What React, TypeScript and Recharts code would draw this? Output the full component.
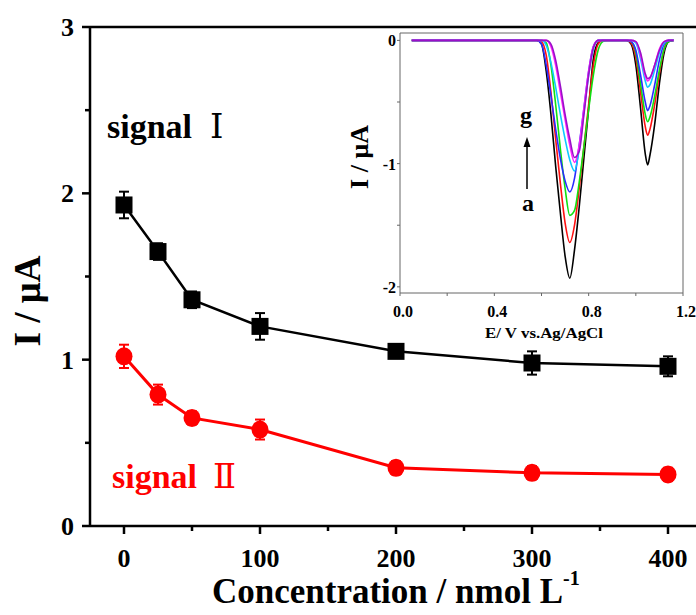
import React from 'react';
import {
  LineChart,
  Line,
  XAxis,
  YAxis,
  ErrorBar,
  ReferenceLine,
  Customized,
} from 'recharts';

// ---------- main chart data ----------
const concentration = [0, 25, 50, 100, 200, 300, 400];
const signalI = [1.93, 1.65, 1.36, 1.2, 1.05, 0.98, 0.96];
const signalIErr = [0.08, 0.05, 0.05, 0.08, 0.03, 0.07, 0.06];
const signalII = [1.02, 0.79, 0.65, 0.58, 0.35, 0.32, 0.31];
const signalIIErr = [0.07, 0.06, 0.04, 0.06, 0.04, 0.04, 0.04];
const mainXTicks = [0, 50, 100, 150, 200, 250, 300, 350, 400];
const mainXLabels = [0, 100, 200, 300, 400];
const mainYTicks = [0, 0.5, 1, 1.5, 2, 2.5, 3];
const mainYLabels = [0, 1, 2, 3];

// ---------- inset (DPV curves a-g) ----------
const potential = [
  0.05, 0.3, 0.5, 0.56, 0.58, 0.6, 0.62, 0.64, 0.66, 0.68, 0.7, 0.72, 0.74, 0.76, 0.78, 0.8, 0.82,
  0.84, 0.86, 0.88, 0.94, 0.96, 0.98, 1.0, 1.02, 1.04, 1.05, 1.06, 1.08, 1.1, 1.12, 1.14, 1.16,
];
const curveA = [
  0, 0, 0, 0, 0, -0.03, -0.25, -0.6, -1.02, -1.4, -1.75, -1.93, -1.7, -1.35, -0.95, -0.55, -0.15,
  -0.02, 0, 0, 0, 0, -0.03, -0.2, -0.55, -0.92, -1.01, -0.93, -0.68, -0.35, -0.1, -0.01, 0,
];
const curveB = [
  0, 0, 0, 0, 0, -0.01, -0.12, -0.42, -0.8, -1.16, -1.48, -1.64, -1.5, -1.2, -0.86, -0.52, -0.2,
  -0.03, 0, 0, 0, 0, -0.02, -0.14, -0.42, -0.7, -0.77, -0.72, -0.52, -0.27, -0.07, 0, 0,
];
const curveC = [
  0, 0, 0, 0, 0, 0, -0.02, -0.2, -0.52, -0.88, -1.2, -1.42, -1.38, -1.15, -0.86, -0.56, -0.28,
  -0.08, -0.01, 0, 0, 0, -0.01, -0.1, -0.35, -0.6, -0.66, -0.62, -0.45, -0.24, -0.07, -0.01, 0,
];
const curveD = [
  0, 0, 0, 0, 0, -0.03, -0.2, -0.45, -0.72, -0.96, -1.14, -1.23, -1.12, -0.85, -0.55, -0.25, -0.05,
  0, 0, 0, 0, 0, -0.01, -0.08, -0.28, -0.5, -0.57, -0.53, -0.36, -0.16, -0.03, 0, 0,
];
const curveE = [
  0, 0, 0, 0, 0, 0, -0.04, -0.18, -0.38, -0.6, -0.8, -0.97, -1.06, -0.88, -0.58, -0.28, -0.07,
  0, 0, 0, 0, 0, 0, -0.02, -0.15, -0.33, -0.38, -0.36, -0.24, -0.1, -0.02, 0, 0,
];
const curveF = [
  0, 0, 0, 0, 0, 0, 0, -0.05, -0.2, -0.42, -0.64, -0.85, -0.99, -0.85, -0.55, -0.25, -0.05,
  0, 0, 0, 0, 0, 0, -0.01, -0.12, -0.29, -0.33, -0.31, -0.2, -0.07, -0.01, 0, 0,
];
const curveG = [
  0, 0, 0, 0, 0, 0, 0, -0.03, -0.16, -0.37, -0.6, -0.8, -0.95, -0.9, -0.6, -0.28, -0.06,
  0, 0, 0, 0, 0, 0, -0.01, -0.1, -0.27, -0.31, -0.3, -0.2, -0.08, -0.01, 0, 0,
];
const curveColors = ['#000000', '#ff1010', '#10e010', '#2a2aff', '#10c8ff', '#ff20ff', '#9a10c8'];
const insetXTicks = [0, 0.2, 0.4, 0.6, 0.8, 1.0, 1.2];
const insetXLabels = [0, 0.4, 0.8, 1.2];
const insetYTicks = [-2, -1.5, -1, -0.5, 0];
const insetYLabels = [-2, -1, 0];

const mainData = concentration.map((c, i) => ({
  c,
  s1: signalI[i],
  e1: signalIErr[i],
  s2: signalII[i],
  e2: signalIIErr[i],
}));

const insetData = potential.map((pot, i) => ({
  pot,
  ca: curveA[i],
  cb: curveB[i],
  cc: curveC[i],
  cd: curveD[i],
  ce: curveE[i],
  cf: curveF[i],
  cg: curveG[i],
}));

const SERIF = "'Liberation Serif', 'Times New Roman', 'DejaVu Serif', serif";

const MainXTick = (props: any) => {
  const { x, y, payload } = props;
  const major = mainXLabels.includes(payload.value);
  return (
    <g>
      <line x1={x} x2={x} y1={y} y2={y + (major ? 8 : 5)} stroke="#000" strokeWidth={2.5} />
      {major && (
        <text x={x} y={y + 41} textAnchor="middle" fontSize={26} fontWeight="bold" fontFamily={SERIF} fill="#000">
          {payload.value}
        </text>
      )}
    </g>
  );
};

const MainYTick = (props: any) => {
  const { x, y, payload } = props;
  const major = mainYLabels.includes(payload.value);
  return (
    <g>
      <line x1={x - (major ? 8 : 5)} x2={x} y1={y} y2={y} stroke="#000" strokeWidth={2.5} />
      {major && (
        <text x={x - 16} y={y + 9} textAnchor="end" fontSize={26} fontWeight="bold" fontFamily={SERIF} fill="#000">
          {payload.value}
        </text>
      )}
    </g>
  );
};

const InsetXTick = (props: any) => {
  const { x, y, payload } = props;
  const major = insetXLabels.some((v) => Math.abs(v - payload.value) < 1e-6);
  return (
    <g>
      <line x1={x} x2={x} y1={y} y2={y + 3} stroke="#666" strokeWidth={1} />
      {major && (
        <text x={x + 3} y={y + 24} textAnchor="middle" fontSize={16} fontWeight="bold" fontFamily={SERIF} fill="#000">
          {payload.value.toFixed(1)}
        </text>
      )}
    </g>
  );
};

const InsetYTick = (props: any) => {
  const { x, y, payload } = props;
  const major = insetYLabels.includes(payload.value);
  return (
    <g>
      <line x1={x - 3} x2={x} y1={y} y2={y} stroke="#666" strokeWidth={1} />
      {major && (
        <text x={x - 4} y={y + 6} textAnchor="end" fontSize={16} fontWeight="bold" fontFamily={SERIF} fill="#000">
          {payload.value}
        </text>
      )}
    </g>
  );
};

const SquareDot = (props: any) => {
  const { cx, cy } = props;
  if (cx == null || cy == null) return <g />;
  return <rect x={cx - 8.5} y={cy - 8.5} width={17} height={17} fill="#000" />;
};

const CircleDot = (props: any) => {
  const { cx, cy } = props;
  if (cx == null || cy == null) return <g />;
  return <ellipse cx={cx} cy={cy} rx={8.5} ry={9} fill="#ff0000" />;
};

const MainTexts = () => (
  <g fontFamily={SERIF} fontWeight="bold">
    <text x={107} y={138} fontSize={34} fill="#000">
      signal
      <tspan dx={18} fontWeight="normal">Ⅰ</tspan>
    </text>
    <text x={112} y={488} fontSize={34} fill="#ff0000">
      signal
      <tspan dx={16} fontWeight="normal">Ⅱ</tspan>
    </text>
    <text
      x={40}
      y={301}
      fontSize={37}
      fill="#000"
      textAnchor="middle"
      transform="rotate(-90, 40, 301)"
    >
      I / μA
    </text>
    <text x={212} y={603} fontSize={35} fill="#000">
      Concentration / nmol L
      <tspan dy={-18} fontSize={20}>
        -1
      </tspan>
    </text>
  </g>
);

const InsetTexts = () => (
  <g fontFamily={SERIF} fontWeight="bold" fill="#000">
    <text x={28} y={157} fontSize={26} textAnchor="middle" transform="rotate(-90, 28, 157)">
      I / μA
    </text>
    <text x={204} y={338} fontSize={15} textAnchor="middle" textLength={118} lengthAdjust="spacingAndGlyphs">
      E/ V vs.Ag/AgCl
    </text>
    <text x={186} y={123} fontSize={24} textAnchor="middle">
      g
    </text>
    <text x={188} y={211} fontSize={24} textAnchor="middle">
      a
    </text>
    <line x1={187} x2={187} y1={189} y2={146} stroke="#000" strokeWidth={1.5} />
    <path d="M183.5,147 L187,137 L190.5,147 Z" fill="#000" />
  </g>
);

export default function App() {
  return (
    <div
      style={{
        position: 'absolute',
        left: 0,
        top: 0,
        width: 696,
        height: 615,
        overflow: 'hidden',
        background: '#fff',
      }}
    >
      <div style={{ position: 'absolute', left: 0, top: 0 }}>
        <LineChart width={710} height={615} data={mainData} margin={{ top: 27, right: 8, bottom: 0, left: 0 }}>
          <XAxis
            dataKey="c"
            type="number"
            domain={[-25, 425]}
            ticks={mainXTicks}
            allowDataOverflow
            height={89}
            tickSize={0}
            tickMargin={0}
            tickLine={false}
            axisLine={{ stroke: '#000', strokeWidth: 2.5 }}
            tick={<MainXTick />}
            interval={0}
          />
          <YAxis
            type="number"
            domain={[0, 3]}
            ticks={mainYTicks}
            allowDataOverflow
            width={90}
            tickSize={0}
            tickMargin={0}
            tickLine={false}
            axisLine={{ stroke: '#000', strokeWidth: 2.5 }}
            tick={<MainYTick />}
            interval={0}
          />
          <ReferenceLine y={3} stroke="#000" strokeWidth={2.5} />
          <Line
            dataKey="s1"
            stroke="#000"
            strokeWidth={2.5}
            isAnimationActive={false}
            dot={<SquareDot />}
            activeDot={false}
          >
            <ErrorBar dataKey="e1" direction="y" width={5} stroke="#000" strokeWidth={2} isAnimationActive={false} />
          </Line>
          <Line
            dataKey="s2"
            stroke="#ff0000"
            strokeWidth={3}
            isAnimationActive={false}
            dot={<CircleDot />}
            activeDot={false}
          >
            <ErrorBar dataKey="e2" direction="y" width={5} stroke="#ff0000" strokeWidth={2} isAnimationActive={false} />
          </Line>
          <Customized component={MainTexts} />
        </LineChart>
      </div>
      <div style={{ position: 'absolute', left: 340, top: 0 }}>
        <LineChart width={356} height={345} data={insetData} margin={{ top: 33, right: 13, bottom: 0, left: 0 }}>
          <XAxis
            dataKey="pot"
            type="number"
            domain={[0, 1.2]}
            ticks={insetXTicks}
            height={52}
            tickSize={0}
            tickMargin={0}
            tickLine={false}
            axisLine={{ stroke: '#666', strokeWidth: 1 }}
            tick={<InsetXTick />}
            interval={0}
          />
          <YAxis
            type="number"
            domain={[-2.05, 0.06]}
            ticks={insetYTicks}
            width={60}
            tickSize={0}
            tickMargin={0}
            tickLine={false}
            axisLine={{ stroke: '#666', strokeWidth: 1 }}
            tick={<InsetYTick />}
            interval={0}
          />
          <ReferenceLine y={0.06} stroke="#666" strokeWidth={1} />
          <ReferenceLine x={1.2} stroke="#666" strokeWidth={1} />
          <Line dataKey="ca" type="monotone" stroke={curveColors[0]} strokeWidth={1.6} dot={false} activeDot={false} isAnimationActive={false} />
          <Line dataKey="cb" type="monotone" stroke={curveColors[1]} strokeWidth={1.6} dot={false} activeDot={false} isAnimationActive={false} />
          <Line dataKey="cc" type="monotone" stroke={curveColors[2]} strokeWidth={1.6} dot={false} activeDot={false} isAnimationActive={false} />
          <Line dataKey="cd" type="monotone" stroke={curveColors[3]} strokeWidth={1.6} dot={false} activeDot={false} isAnimationActive={false} />
          <Line dataKey="ce" type="monotone" stroke={curveColors[4]} strokeWidth={1.6} dot={false} activeDot={false} isAnimationActive={false} />
          <Line dataKey="cf" type="monotone" stroke={curveColors[5]} strokeWidth={1.6} dot={false} activeDot={false} isAnimationActive={false} />
          <Line dataKey="cg" type="monotone" stroke={curveColors[6]} strokeWidth={1.6} dot={false} activeDot={false} isAnimationActive={false} />
          <Customized component={InsetTexts} />
        </LineChart>
      </div>
    </div>
  );
}
